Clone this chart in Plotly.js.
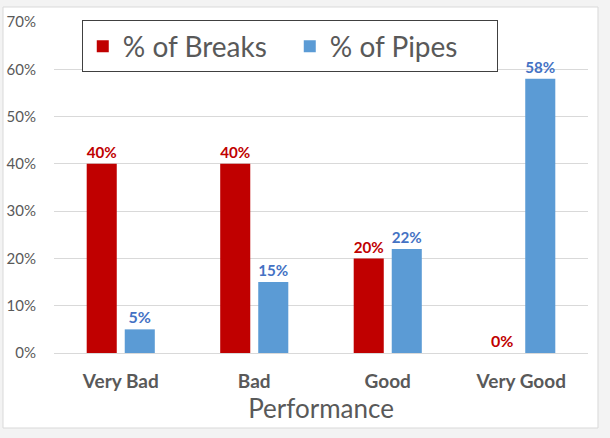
<!DOCTYPE html>
<html><head><meta charset="utf-8">
<script src="https://cdn.plot.ly/plotly-3.0.1.min.js"></script>
<style>html,body{margin:0;padding:0;background:#f3f3f3;}#c{width:610px;height:438px;}</style>
</head><body><div id="c"></div>
<script>
const categories = ["Very Bad", "Bad", "Good", "Very Good"];
const breaks = [0.40, 0.40, 0.20, 0.00];
const pipes = [0.05, 0.15, 0.22, 0.58];
const breaksLabels = ["40%", "40%", "20%", "0%"];
const pipesLabels = ["5%", "15%", "22%", "58%"];
const yTicks = [0, 0.1, 0.2, 0.3, 0.4, 0.5, 0.6, 0.7];
const yTickText = ["0%", "10%", "20%", "30%", "40%", "50%", "60%", "70%"];

const F = "Lato, 'Open Sans', sans-serif";
const traces = [
  {type: "bar", name: "% of Breaks", x: categories, y: breaks, text: breaksLabels,
   textposition: "outside", cliponaxis: false, marker: {color: "#C00000"},
   textfont: {family: F, size: 16, color: "#C00000", weight: "bold"}, hoverinfo: "none"},
  {type: "bar", name: "% of Pipes", x: categories, y: pipes, text: pipesLabels,
   textposition: "outside", cliponaxis: false, marker: {color: "#5B9BD5"},
   textfont: {family: F, size: 16, color: "#4472C4", weight: "bold"}, hoverinfo: "none"}
];
const layout = {
  width: 610, height: 438,
  margin: {l: 54, r: 22, t: 22, b: 85},
  paper_bgcolor: "#f3f3f3", plot_bgcolor: "rgba(0,0,0,0)",
  font: {family: F, color: "#595959"},
  barmode: "group", bargap: 0.43, bargroupgap: 0.21,
  showlegend: true,
  legend: {orientation: "h", x: 0.052, y: 0.926, xanchor: "left", yanchor: "middle",
    bgcolor: "#ffffff", bordercolor: "#404040", borderwidth: 1,
    font: {family: F, size: 28, color: "#595959"}, itemwidth: 30, entrywidth: 162,
    traceorder: "normal"},
  xaxis: {type: "category", showgrid: false, zeroline: false, showline: false,
    tickfont: {family: F, size: 19, color: "#595959", weight: "bold"},
    ticks: "outside", ticklen: 11, tickcolor: "rgba(0,0,0,0)",
    title: {text: "Performance", font: {family: F, size: 26, color: "#595959"}, standoff: 8}},
  yaxis: {range: [0, 0.7], tickvals: yTicks, ticktext: yTickText,
    showgrid: true, gridcolor: "#d9d9d9", gridwidth: 1, zeroline: true, zerolinecolor: "#d9d9d9",
    showline: false, ticks: "outside", ticklen: 14, tickcolor: "rgba(0,0,0,0)",
    tickfont: {family: F, size: 15, color: "#595959"}},
  shapes: [
    {type: "rect", xref: "paper", yref: "paper", x0: -0.0955, x1: 1.0187, y0: -0.2266, y1: 1.0453,
     fillcolor: "#ffffff", line: {color: "#d9d9d9", width: 1}, layer: "below"}
  ]
};
Plotly.newPlot("c", traces, layout, {displayModeBar: false, staticPlot: true});
</script></body></html>
